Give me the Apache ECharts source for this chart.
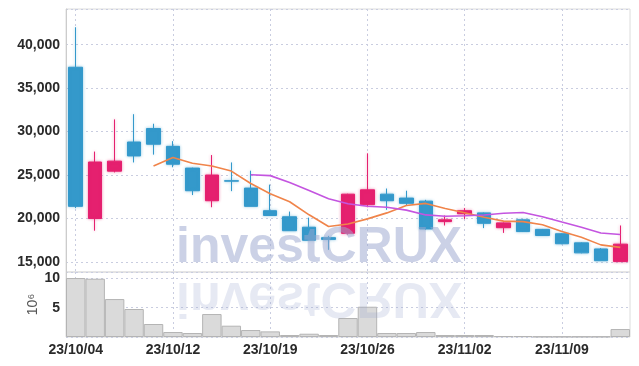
<!DOCTYPE html>
<html><head><meta charset="utf-8">
<script src="https://cdn.jsdelivr.net/npm/echarts@6/dist/echarts.min.js"></script>
<style>html,body{margin:0;padding:0;background:#fff}#c{width:639px;height:366px}</style>
</head><body><div id="c"></div>
<script>
const dates = ['23/10/04','23/10/05','23/10/06','23/10/10','23/10/11','23/10/12','23/10/13','23/10/16','23/10/17','23/10/18','23/10/19','23/10/20','23/10/23','23/10/24','23/10/25','23/10/26','23/10/27','23/10/30','23/10/31','23/11/01','23/11/02','23/11/03','23/11/06','23/11/07','23/11/08','23/11/09','23/11/10','23/11/13','23/11/14'];
const opens  = [37400,20000,25450,28800,30350,28300,25800,22050,24350,23500,20900,20200,19000,17800,18300,21600,22800,22350,22000,19650,20550,20650,18950,19850,18750,18250,17200,16500,15050];
const closes = [21400,26500,26600,27200,28550,26250,23200,25000,24300,21400,20350,18600,17500,17600,22800,23300,22050,21750,18800,19850,20900,19450,19500,18500,18050,17100,16050,15150,17050];
const lows   = [21200,18600,25300,26450,27350,25900,22700,21300,23150,21400,20300,18600,17450,16400,18150,21300,21000,21550,18700,19200,19950,18900,18350,18450,18000,17050,16000,15150,15050];
const highs  = [42000,27700,31400,32000,30900,28900,25850,27300,26450,25500,23900,20800,20100,18000,22850,27500,23450,23200,22150,20350,21200,20700,19550,19900,18800,18300,17250,16600,19200];
const volumes = [10.07,9.95,6.48,4.78,2.22,0.85,0.68,3.92,1.93,1.19,0.96,0.34,0.56,0.34,3.24,5.17,0.68,0.68,0.85,0.34,0.34,0.34,0.17,0.17,0.08,0.08,0.08,0.08,1.36];
const ma5  = [null,null,null,null,26050,27020,26360,26040,25460,24030,22850,21930,20430,19090,19370,19960,20650,21500,21740,21150,20670,20150,19700,19640,19280,18520,17840,16970,16680];
const ma10 = [null,null,null,null,null,null,null,null,null,25040,24935,24145,23235,22275,21700,21405,21290,20965,20415,20260,20315,20400,20600,20690,20215,19595,18995,18335,18160];

const UP = '#e5206f', DOWN = '#3499cb';
const FONT = "'Liberation Sans Narrow','Liberation Sans',sans-serif";
const candleData = dates.map((d,i)=>{
  const up = closes[i] > opens[i];
  return {value:[opens[i],closes[i],lows[i],highs[i]],
    itemStyle:{shadowBlur:3, shadowColor: up ? 'rgba(229,32,111,0.45)' : 'rgba(52,153,203,0.45)'}};
});
const gridLine = {show:true, lineStyle:{color:'#c9cde0', type:[2,3], width:1}};
const labelStyle = {fontFamily:FONT, fontSize:14, fontWeight:'bold', color:'#2a2a2a'};
const chart = echarts.init(document.getElementById('c'), null, {renderer:'canvas'});
chart.setOption({
  animation:false,
  backgroundColor:'#fff',
  grid:[
    {left:66, right:9, top:9, height:263, show:true, borderColor:'#dcdcdc', borderWidth:1},
    {left:66, right:9, top:272, height:65, show:true, borderColor:'#dcdcdc', borderWidth:1}
  ],
  xAxis:[
    {type:'category', gridIndex:0, data:dates, boundaryGap:true,
     axisLine:{show:false}, axisTick:{show:false}, axisLabel:{show:false},
     splitLine:Object.assign({interval:4, alignWithLabel:true}, gridLine)},
    {type:'category', gridIndex:1, data:dates, boundaryGap:true,
     axisLine:{show:false}, axisTick:{show:false},
     axisLabel:Object.assign({interval:4, margin:6}, labelStyle),
     splitLine:Object.assign({interval:4, alignWithLabel:true}, gridLine)}
  ],
  yAxis:[
    {type:'value', gridIndex:0, min:13850, max:44100, scale:true,
     axisLine:{show:true, lineStyle:{color:'#cccccc'}}, axisTick:{show:false},
     axisLabel:Object.assign({showMinLabel:false, showMaxLabel:false, margin:6,
       formatter:v=>String(v).replace(/\B(?=(\d{3})+(?!\d))/g, ',')}, labelStyle),
     splitLine:gridLine},
    {type:'value', gridIndex:1, min:0, max:11.1, interval:5,
     name:'10\u2076', nameLocation:'middle', nameRotate:90, nameGap:26, nameMoveOverlap:false,
     nameTextStyle:{fontFamily:FONT, fontSize:14, color:'#555'},
     axisLine:{show:true, lineStyle:{color:'#cccccc'}}, axisTick:{show:false},
     axisLabel:Object.assign({showMinLabel:false, showMaxLabel:false, margin:6}, labelStyle),
     splitLine:gridLine}
  ],
  series:[
    {type:'bar', xAxisIndex:1, yAxisIndex:1, data:volumes, barWidth:'100%',
     itemStyle:{color:'#dadada', borderColor:'#b4b4b4', borderWidth:1}},
    {type:'candlestick', xAxisIndex:0, yAxisIndex:0, data:candleData, barWidth:14,
     itemStyle:{color:UP, color0:DOWN, borderColor:UP, borderColor0:DOWN, borderWidth:1}},
    {type:'line', xAxisIndex:0, yAxisIndex:0, data:ma5, showSymbol:false, symbol:'none',
     lineStyle:{color:'#f0844a', width:1.6}, z:3},
    {type:'line', xAxisIndex:0, yAxisIndex:0, data:ma10, showSymbol:false, symbol:'none',
     lineStyle:{color:'#c455e0', width:1.6}, z:3}
  ],
  graphic:[
    {type:'text', x:176, y:273, z:100, silent:true,
     style:{text:'investCRUX', font:"bold 50px 'Liberation Sans'", fill:'rgba(155,167,208,0.52)', verticalAlign:'bottom'}},
    {type:'text', x:176, y:272, scaleY:-1, z:100, silent:true,
     style:{text:'investCRUX', font:"bold 50px 'Liberation Sans'", fill:'rgba(155,167,208,0.25)', verticalAlign:'bottom'}}
  ]
});
</script></body></html>
